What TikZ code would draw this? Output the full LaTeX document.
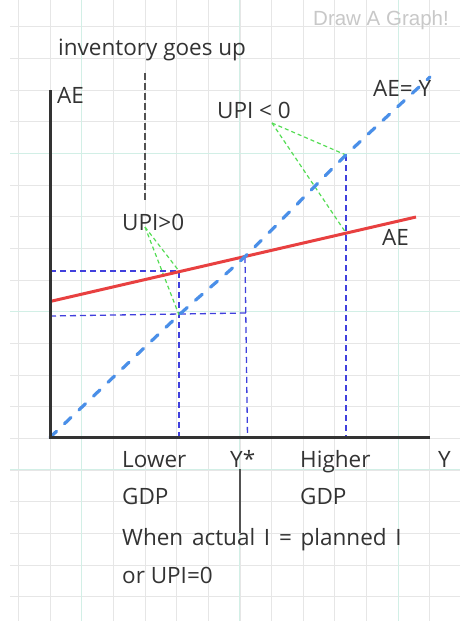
\documentclass[tikz,border=0pt]{standalone}
\usepackage{fontspec}
\setmainfont{Open Sans}
\newfontfamily\wmfont{Liberation Sans}
\newfontfamily\widespacefont[WordSpace=1.5]{Open Sans}
\definecolor{gridgray}{HTML}{E6E6E6}
\definecolor{gridgreen}{HTML}{D2EFE6}
\definecolor{inkc}{HTML}{333333}
\definecolor{aeblue}{HTML}{4A8FE8}
\definecolor{guideblue}{HTML}{4040DD}
\definecolor{upigreen}{HTML}{55DD55}
\definecolor{aered}{HTML}{E84040}
\definecolor{markgray}{HTML}{C8C8C8}
\tikzset{
  hand/.style={inner sep=0pt, anchor=base west, text=inkc, font=\fontsize{22.5}{26}\selectfont},
  axisline/.style={draw=inkc, line width=3pt},
  diagline/.style={draw=aeblue, line width=3.2pt, line cap=round, dash pattern=on 9pt off 11pt},
  aeline/.style={draw=aered, line width=3pt},
  guide/.style={draw=guideblue, line width=1.3pt, dash pattern=on 6pt off 4pt},
  upiline/.style={draw=upigreen, line width=1.2pt, dash pattern=on 4pt off 3pt},
  pointer/.style={draw=inkc!85, line width=1.5pt},
  pointerdash/.style={draw=inkc!85, line width=1.5pt, dash pattern=on 7pt off 3pt}
}
\begin{document}
\begin{tikzpicture}[x=1pt,y=-1pt]
\useasboundingbox (0,0) rectangle (460,621);
\fill[white] (0,0) rectangle (460,621);
% grid
\foreach \k in {0,...,13} {
  \pgfmathsetmacro{\gx}{18.5+31.63*\k}
  \draw[gridgray, line width=0.8pt] (\gx,0) -- (\gx,621);
}
\foreach \k in {0,...,18} {
  \pgfmathsetmacro{\gy}{26.6+31.67*\k}
  \draw[gridgray, line width=0.8pt] (10,\gy) -- (460,\gy);
}
\foreach \k in {2,7,12} {
  \pgfmathsetmacro{\gx}{18.5+31.63*\k}
  \draw[gridgreen, line width=1pt] (\gx,0) -- (\gx,621);
}
\foreach \k in {4,9,14} {
  \pgfmathsetmacro{\gy}{26.6+31.67*\k}
  \draw[gridgreen, line width=1pt] (10,\gy) -- (460,\gy);
}
% watermark
\node[inner sep=0pt, anchor=base west, text=markgray, font=\wmfont\fontsize{20.5}{24}\selectfont] (mark) at (313,25) {Draw A Graph!};
% key points
\coordinate (O) at (50,437.5);
\coordinate (ytop) at (50,90);
\coordinate (xend) at (430,437.5);
\coordinate (Q1) at (179,315);
\coordinate (P1) at (179,271);
\coordinate (E) at (245,257);
\coordinate (Q2) at (346,155);
\coordinate (P2) at (346,233);
\coordinate (diagend) at (430,77);
\coordinate (aeL) at (50,301.5);
\coordinate (aeR) at (416,217);
\coordinate (yP1) at (50,271);
\coordinate (yQ1) at (50,316);
\coordinate (EQ) at (246,313);
\coordinate (xP1) at (179,437.5);
\coordinate (xE) at (247.5,437.5);
\coordinate (xQ2) at (346,437.5);
\coordinate (gA) at (272,123);
\coordinate (gB) at (145,227);
\coordinate (invtop) at (145,73);
\coordinate (invbot) at (145,200);
\coordinate (ystop) at (240,469);
\coordinate (ysbot) at (240,533);
% guides
\draw[guide] (yP1) -- (P1) -- (xP1);
\draw[guide] (yQ1) -- (EQ);
\draw[guide] (E) -- (xE);
\draw[guide] (Q2) -- (xQ2);
% green
\draw[upiline] (gA) -- (Q2);
\draw[upiline] (gA) -- (P2);
\draw[upiline] (gB) -- (P1);
\draw[upiline] (gB) -- (Q1);
% AE line
\draw[aeline] (aeL) -- (aeR);
% 45 line
\draw[diagline] plot[smooth, tension=0.4] coordinates {(50,437.5) (179,315) (245,256.5) (346,155) (430,77)};
% axes
\draw[axisline] (ytop) -- (O) -- (xend);
% pointers
\draw[pointerdash] (invtop) -- (invbot);
\draw[pointer] (ystop) -- (ysbot);
% labels
\node[hand] (inv) at (58,55) {inventory goes up};
\node[hand] (aeax) at (57,103) {AE};
\node[hand] (upineg) at (217,118) {UPI < 0};
\node[hand] (aey) at (373,96) {AE= Y};
\node[hand] (upipos) at (122,230) {UPI>0};
\node[hand] (aecurve) at (382,245) {AE};
\node[hand] (lower) at (122,467) {Lower};
\node[hand] (ystar) at (230,467) {Y*};
\node[hand] (higher) at (300,467) {Higher};
\node[hand] (yax) at (438,467) {Y};
\node[hand] (gdpl) at (122,504) {GDP};
\node[hand] (gdph) at (300,504) {GDP};
\node[hand, font=\widespacefont\fontsize{22.5}{26}\selectfont] (when) at (122,545) {When actual I = planned I};
\node[hand] (orupi) at (122,583) {or UPI=0};
\end{tikzpicture}
\end{document}
